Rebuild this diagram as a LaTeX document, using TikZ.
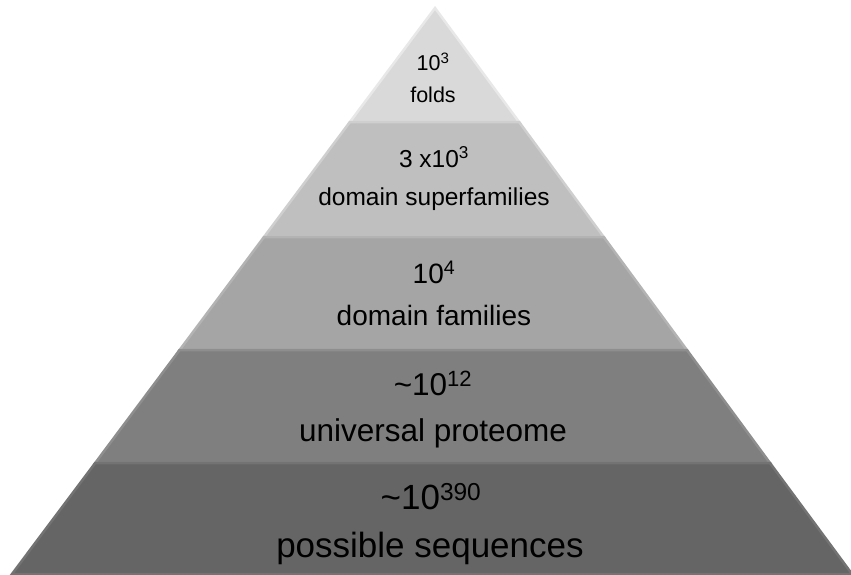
\documentclass[tikz,border=0pt]{standalone}
\usepackage{fontspec}
\setmainfont{Liberation Sans}
\usepackage{tikz}
\usepackage{xcolor}

\definecolor{tierA}{HTML}{D9D9D9}
\definecolor{edgeA}{HTML}{E8E8E8}
\definecolor{tierB}{HTML}{BFBFBF}
\definecolor{edgeB}{HTML}{CFCFCF}
\definecolor{tierC}{HTML}{A5A5A5}
\definecolor{edgeC}{HTML}{B3B3B3}
\definecolor{tierD}{HTML}{7F7F7F}
\definecolor{edgeD}{HTML}{8E8E8E}
\definecolor{tierE}{HTML}{656565}
\definecolor{edgeE}{HTML}{737373}

\tikzset{
  tier/.style={line width=2.5pt, line join=miter},
  lbl/.style={inner sep=0pt, text=black}
}

\begin{document}
\begin{tikzpicture}[x=1pt,y=-1pt]
\useasboundingbox (0,0) rectangle (851,574);
% the five tiers, top to bottom
\draw [tier, fill=tierA, draw=edgeA] (435,8) -- (519.1,122) -- (349.9,122) -- cycle;
\draw [tier, fill=tierB, draw=edgeB] (349.9,122) -- (519.1,122) -- (603.7,237) -- (264.0,237) -- cycle;
\draw [tier, fill=tierC, draw=edgeC] (264.0,237) -- (603.7,237) -- (686.9,350) -- (179.6,350) -- cycle;
\draw [tier, fill=tierD, draw=edgeD] (179.6,350) -- (686.9,350) -- (770.0,463) -- (95.2,463) -- cycle;
\draw [tier, fill=tierE, draw=edgeE] (95.2,463) -- (770.0,463) -- (852,574) -- (12,574) -- cycle;

% labels
\node [lbl, font=\fontsize{21.5}{25}\selectfont] (foldsnum) at (433,62) {10\textsuperscript{3}};
\node [lbl, font=\fontsize{21.5}{25}\selectfont] (folds) at (433,95) {folds};
\node [lbl, font=\fontsize{24.5}{29}\selectfont] (supnum) at (434,157) {3 x10\textsuperscript{3}};
\node [lbl, font=\fontsize{24.5}{29}\selectfont] (sup) at (434,199) {domain superfamilies};
\node [lbl, font=\fontsize{28}{33}\selectfont] (famnum) at (434,272) {10\textsuperscript{4}};
\node [lbl, font=\fontsize{28}{33}\selectfont] (fam) at (434,315) {domain families};
\node [lbl, font=\fontsize{31.5}{37}\selectfont] (protnum) at (433,383) {\textasciitilde10\textsuperscript{12}};
\node [lbl, font=\fontsize{31.5}{37}\selectfont] (prot) at (433,433) {universal proteome};
\node [lbl, font=\fontsize{35}{41}\selectfont] (seqnum) at (431,497) {\textasciitilde10\textsuperscript{390}};
\node [lbl, font=\fontsize{35}{41}\selectfont] (seq) at (430,548) {possible sequences};
\end{tikzpicture}
\end{document}
